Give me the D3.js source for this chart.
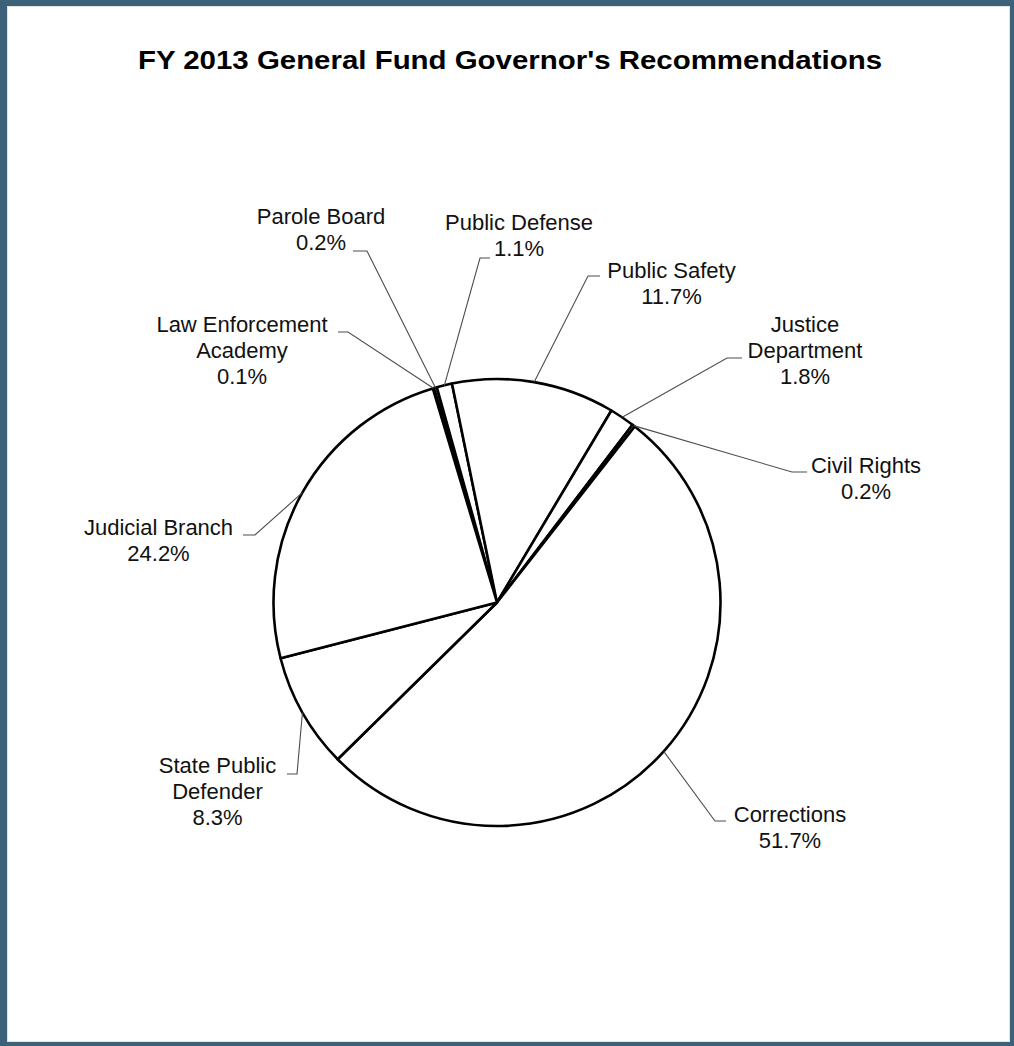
<!DOCTYPE html>
<html>
<head>
<meta charset="utf-8">
<script src="https://cdn.jsdelivr.net/npm/d3@7"></script>
<style>
  html, body { margin: 0; padding: 0; background: #fff; }
  svg { display: block; }
  text { font-family: "Liberation Sans", Arial, sans-serif; }
</style>
</head>
<body>
<svg id="chart" width="1014" height="1046"></svg>
<script>
// Budget shares (percent of general fund), in drawing order
const categories = [
  "Law Enforcement Academy",
  "Parole Board",
  "Public Defense",
  "Public Safety",
  "Justice Department",
  "Civil Rights",
  "Corrections",
  "State Public Defender",
  "Judicial Branch"
];
const shares = [0.1, 0.2, 1.1, 11.7, 1.8, 0.2, 51.7, 8.3, 24.2];
const labelLines = [
  ["Law Enforcement", "Academy"],
  ["Parole Board"],
  ["Public Defense"],
  ["Public Safety"],
  ["Justice", "Department"],
  ["Civil Rights"],
  ["Corrections"],
  ["State Public", "Defender"],
  ["Judicial Branch"]
];
const titleText = "FY 2013 General Fund Governor's Recommendations";

// Label placement: text centre x, first baseline y, leader elbow (x1 -> x2 at y)
const labelLayout = [
  { x: 242,   y: 332, ex1: 338, ex2: 348, ey: 332 },
  { x: 321,   y: 224, ex1: 353, ex2: 367, ey: 251 },
  { x: 519,   y: 230, ex1: 490, ex2: 480, ey: 258 },
  { x: 671.5, y: 278, ex1: 600, ex2: 588, ey: 276 },
  { x: 805,   y: 332, ex1: 742, ex2: 727, ey: 358 },
  { x: 866,   y: 473, ex1: 807, ex2: 792, ey: 472 },
  { x: 790,   y: 822, ex1: 726, ex2: 715, ey: 821 },
  { x: 217.5, y: 773, ex1: 287, ex2: 297, ey: 774 },
  { x: 158.5, y: 535, ex1: 243, ex2: 255, ey: 535 }
];

const W = 1014, H = 1046;
const cx = 497, cy = 602.5, R = 223.5;
const lineH = 26;

const svg = d3.select("#chart");

// Frame
svg.append("rect").attr("x", 0).attr("y", 0).attr("width", W).attr("height", H)
  .attr("fill", "#3b6278");
svg.append("rect").attr("x", 7).attr("y", 6).attr("width", W - 11).attr("height", H - 10)
  .attr("fill", "#ffffff");
svg.append("rect").attr("x", 7.5).attr("y", 6.5).attr("width", W - 12).attr("height", H - 11)
  .attr("fill", "none").attr("stroke", "#e2e2e2").attr("stroke-width", 1);

// Title
svg.append("text")
  .attr("x", 510).attr("y", 69)
  .attr("text-anchor", "middle")
  .attr("font-size", 25.5)
  .attr("font-weight", "bold")
  .attr("fill", "#000")
  .attr("textLength", 744)
  .attr("lengthAdjust", "spacingAndGlyphs")
  .text(titleText);

// Pie
const startDeg = -16.7;
const start = startDeg * Math.PI / 180;
const pie = d3.pie().sort(null).value(d => d).startAngle(start).endAngle(start + 2 * Math.PI);
const arcs = pie(shares);
const arc = d3.arc().innerRadius(0).outerRadius(R);

const g = svg.append("g").attr("transform", `translate(${cx},${cy})`);
g.selectAll("path.slice")
  .data(arcs)
  .join("path")
  .attr("class", "slice")
  .attr("d", arc)
  .attr("fill", "#ffffff")
  .attr("stroke", "#000")
  .attr("stroke-width", 2.6)
  .attr("stroke-linejoin", "round");

// Leader lines from each slice's outer mid-arc to its label
const leaders = svg.append("g");
arcs.forEach((a, i) => {
  const mid = (a.startAngle + a.endAngle) / 2;
  const px = cx + R * Math.sin(mid);
  const py = cy - R * Math.cos(mid);
  const L = labelLayout[i];
  leaders.append("path")
    .attr("d", d3.line()([[L.ex1, L.ey], [L.ex2, L.ey], [px, py]]))
    .attr("fill", "none")
    .attr("stroke", "#4d4d4d")
    .attr("stroke-width", 1.1);
});

// Labels: name lines then the percentage
const labels = svg.append("g");
arcs.forEach((a, i) => {
  const L = labelLayout[i];
  const lines = labelLines[i].concat([d3.format(".1f")(shares[i]) + "%"]);
  const t = labels.append("text")
    .attr("text-anchor", "middle")
    .attr("font-size", 22)
    .attr("fill", "#111");
  lines.forEach((s, k) => {
    t.append("tspan").attr("x", L.x).attr("y", L.y + k * lineH).text(s);
  });
});
</script>
</body>
</html>
